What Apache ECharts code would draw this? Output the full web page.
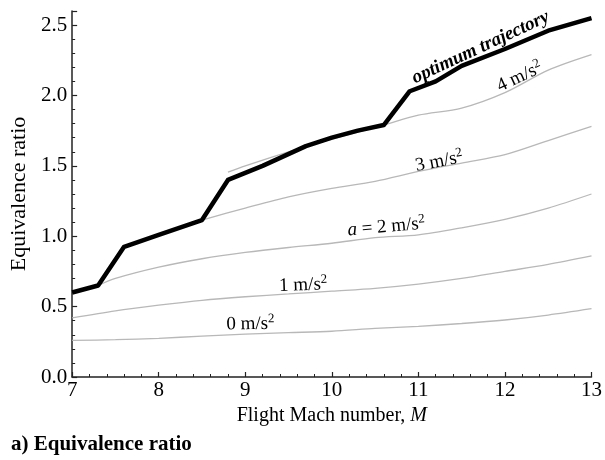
<!DOCTYPE html>
<html>
<head>
<meta charset="utf-8">
<script src="https://cdn.jsdelivr.net/npm/echarts@6/dist/echarts.min.js"></script>
<style>
html,body{margin:0;padding:0;background:#fff;}
#c{width:605px;height:460px;}
</style>
</head>
<body>
<div id="c"></div>
<script>
// ---- data ----
const xTicks = [7, 8, 9, 10, 11, 12, 13];
const yTicks = [0.0, 0.5, 1.0, 1.5, 2.0, 2.5];

const a0X = [7, 7.5, 8, 8.5, 9, 9.5, 10, 10.5, 11, 11.5, 12, 12.5, 13];
const a0Y = [0.26, 0.265, 0.275, 0.29, 0.305, 0.315, 0.325, 0.345, 0.36, 0.38, 0.405, 0.44, 0.485];

const a1X = [7, 7.5, 8, 8.5, 9, 9.5, 10, 10.5, 11, 11.5, 12, 12.5, 13];
const a1Y = [0.42, 0.47, 0.51, 0.545, 0.57, 0.59, 0.61, 0.63, 0.66, 0.70, 0.75, 0.80, 0.86];

const a2X = [7.3, 7.5, 8, 8.5, 9, 9.5, 10, 10.5, 11, 11.5, 12, 12.5, 13];
const a2Y = [0.65, 0.70, 0.78, 0.84, 0.885, 0.92, 0.95, 0.99, 1.01, 1.06, 1.12, 1.20, 1.30];

const a3X = [8.5, 9, 9.5, 10, 10.5, 11, 11.5, 12, 12.5, 13];
const a3Y = [1.115, 1.20, 1.28, 1.34, 1.39, 1.46, 1.52, 1.58, 1.68, 1.78];

const a4X = [8.8, 9.0, 9.5, 10.0, 10.6, 11.0, 11.5, 12.0, 12.5, 13.0];
const a4Y = [1.455, 1.50, 1.60, 1.69, 1.79, 1.86, 1.91, 2.02, 2.18, 2.29];

const optX = [7, 7.3, 7.6, 8.0, 8.5, 8.8, 9.2, 9.7, 10.0, 10.3, 10.6, 10.9, 11.2, 11.5, 12.0, 12.5, 13.0];
const optY = [0.60, 0.65, 0.925, 1.01, 1.115, 1.40, 1.50, 1.64, 1.70, 1.75, 1.79, 2.03, 2.10, 2.21, 2.33, 2.46, 2.55];

// curve annotations (data coords)
const labelText = ['optimum trajectory', '4 m/s', '3 m/s', '2 m/s', '1 m/s', '0 m/s'];
const labelX = [11.72, 12.17, 11.24, 10.63, 9.67, 9.06];
const labelY = [2.34, 2.13, 1.53, 1.065, 0.653, 0.376];
const labelRot = [25, 25, 11, 5, 2, 1];

const pairs = (xs, ys) => xs.map((x, i) => [x, ys[i]]);
const FONT = '"Liberation Serif", "DejaVu Serif", serif';
const grayLine = { color: '#b8b8b8', width: 1.3 };

const labelData = labelText.map((t, i) => ({
  value: [labelX[i], labelY[i]],
  label: {
    rotate: labelRot[i],
    formatter: i === 0 ? '{b|' + t + '}' : (i === 3 ? '{i|a}{t| = ' + t + '}{s|2}' : '{t|' + t + '}{s|2}')
  }
}));

const chart = echarts.init(document.getElementById('c'), null, { renderer: 'canvas' });
chart.setOption({
  animation: false,
  backgroundColor: '#fff',
  title: {
    text: 'a) Equivalence ratio',
    left: 6, top: 429,
    textStyle: { fontFamily: FONT, fontWeight: 'bold', fontSize: 21, color: '#000' }
  },
  grid: { left: 69, right: 9, top: 11, bottom: 83, containLabel: false },
  xAxis: {
    type: 'value', min: 7, max: 13, interval: 1,
    name: '{n|Flight Mach number, }{m|M}',
    nameLocation: 'middle', nameGap: 27,
    nameTextStyle: {
      rich: {
        n: { fontFamily: FONT, fontSize: 20, color: '#000' },
        m: { fontFamily: FONT, fontSize: 20, fontStyle: 'italic', color: '#000' }
      }
    },
    axisLine: { onZero: false, lineStyle: { color: '#222', width: 1.5 } },
    axisTick: { inside: true, length: 5, lineStyle: { color: '#222', width: 1.2 } },
    minorTick: { show: true, splitNumber: 5, length: 3, lineStyle: { color: '#222', width: 1 } },
    splitLine: { show: false },
    axisLabel: {
      fontFamily: FONT, fontSize: 21, color: '#000', margin: 3,
      formatter: v => xTicks.includes(v) ? String(v) : ''
    }
  },
  yAxis: {
    type: 'value', min: 0, max: 2.6, interval: 0.5,
    name: 'Equivalence ratio',
    nameLocation: 'middle', nameGap: 38,
    nameTextStyle: { fontFamily: FONT, fontSize: 22, color: '#000' },
    axisLine: { show: true, onZero: false, lineStyle: { color: '#222', width: 1.5 } },
    axisTick: { show: true, inside: true, length: 5, lineStyle: { color: '#222', width: 1.2 } },
    minorTick: { show: true, splitNumber: 5, length: 3, lineStyle: { color: '#222', width: 1 } },
    splitLine: { show: false },
    axisLabel: {
      fontFamily: FONT, fontSize: 21, color: '#000', margin: 5, showMaxLabel: false,
      formatter: v => yTicks.some(t => Math.abs(t - v) < 1e-9) ? v.toFixed(1) : ''
    }
  },
  series: [
    { type: 'line', data: pairs(a0X, a0Y), showSymbol: false, smooth: 0.3, lineStyle: grayLine, z: 2 },
    { type: 'line', data: pairs(a1X, a1Y), showSymbol: false, smooth: 0.3, lineStyle: grayLine, z: 2 },
    { type: 'line', data: pairs(a2X, a2Y), showSymbol: false, smooth: 0.3, lineStyle: grayLine, z: 2 },
    { type: 'line', data: pairs(a3X, a3Y), showSymbol: false, smooth: 0.3, lineStyle: grayLine, z: 2 },
    { type: 'line', data: pairs(a4X, a4Y), showSymbol: false, smooth: 0.3, lineStyle: grayLine, z: 2 },
    { type: 'line', data: pairs(optX, optY), showSymbol: false, smooth: false,
      lineStyle: { color: '#000', width: 4.5, join: 'round' }, z: 3 },
    {
      type: 'scatter', data: labelData, symbolSize: 0, z: 4, silent: true,
      itemStyle: { opacity: 1 },
      label: {
        show: true, position: 'inside', color: '#000', opacity: 1,
        rich: {
          t: { fontFamily: FONT, fontSize: 19, color: '#000' },
          i: { fontFamily: FONT, fontSize: 19, fontStyle: 'italic', color: '#000' },
          s: { fontFamily: FONT, fontSize: 13, color: '#000', padding: [0, 0, 10, 0] },
          b: { fontFamily: FONT, fontSize: 19, fontStyle: 'italic', fontWeight: 'bold', color: '#000' }
        }
      }
    }
  ]
});
</script>
</body>
</html>
